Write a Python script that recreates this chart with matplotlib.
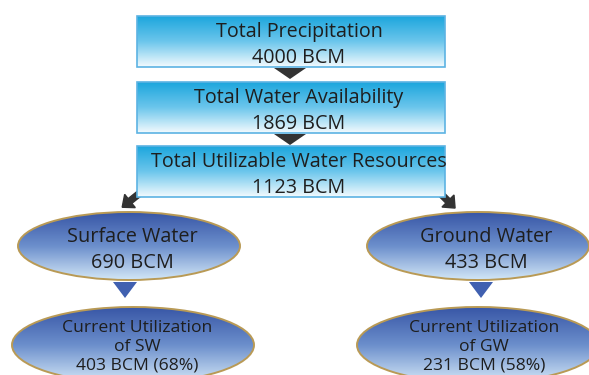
import numpy as np
import matplotlib.pyplot as plt
from matplotlib.patches import Rectangle, Ellipse, Polygon, FancyArrow
from matplotlib.colors import LinearSegmentedColormap

plt.rcParams['font.family'] = ['Open Sans', 'DejaVu Sans']

# top chain of boxes
box_titles = ["Total Precipitation", "Total Water Availability", "Total Utilizable Water Resources"]
box_values = [4000, 1869, 1123]

# the two branches
branch_titles = ["Surface Water", "Ground Water"]
branch_values = [690, 433]
util_titles = ["Current Utilization", "Current Utilization"]
util_sub = ["of SW", "of GW"]
util_values = [403, 231]
util_pct = [68, 58]

W, H = 589, 375
fig = plt.figure(figsize=(W / 100, H / 100), dpi=100)
ax = fig.add_axes([0, 0, 1, 1])
ax.set_xlim(0, W)
ax.set_ylim(H, 0)
ax.axis('off')

box_cmap = LinearSegmentedColormap.from_list("box", ["#1ca6dd", "#6cc6ec", "#f4fbfe"])
ell_cmap = LinearSegmentedColormap.from_list("ell", ["#3856a6", "#6c8fcc", "#d3e7f7"])
grad = np.linspace(0, 1, 256).reshape(-1, 1)
TXT = '#1e1e1e'


def fill_gradient(patch, cmap, x0, x1, y0, y1, z):
    ax.add_patch(patch)
    im = ax.imshow(grad, cmap=cmap, extent=(x0, x1, y1, y0), aspect='auto',
                   origin='upper', zorder=z)
    im.set_clip_path(patch)


# boxes
bx0, bx1 = 137, 445
box_tops = [16, 82, 146]
box_h = 51
for i, (t, v) in enumerate(zip(box_titles, box_values)):
    y0 = box_tops[i]
    r = Rectangle((bx0, y0), bx1 - bx0, box_h, facecolor='none', edgecolor='none', zorder=2)
    fill_gradient(r, box_cmap, bx0, bx1, y0, y0 + box_h, 2)
    ax.add_patch(Rectangle((bx0, y0), bx1 - bx0, box_h, facecolor='none',
                           edgecolor='#5cb3e3', lw=1.2, zorder=3))
    ax.text(299, y0 + 16, t, ha='center', va='center', fontsize=14.2, color=TXT, zorder=6)
    ax.text(299, y0 + 42, f"{v} BCM", ha='center', va='center', fontsize=14.2, color=TXT, zorder=6)

# dark triangles between boxes
for y in [67, 133]:
    ax.add_patch(Polygon([(274, y + 1), (306, y + 1), (290, y + 12)], closed=True,
                         facecolor='#333333', edgecolor='none', zorder=5))

# diagonal arrows to the branches
ax.add_patch(FancyArrow(140, 193, -10, 8, width=6, head_width=17, head_length=10,
                        length_includes_head=False, color='#333333', zorder=1))
ax.add_patch(FancyArrow(440, 193, 8, 8, width=6, head_width=17, head_length=10,
                        length_includes_head=False, color='#333333', zorder=1))

# ellipses
ell1_cx = [129, 478]
ell1_w, ell1_h, ell1_cy = 222, 68, 246
ell2_cx = [133, 478]
ell2_w, ell2_h, ell2_cy = 242, 76, 345
tri_cx = [125, 481]
txt_cx = [[132, 486], [137, 484]]

for i in range(2):
    cx = ell1_cx[i]
    e = Ellipse((cx, ell1_cy), ell1_w, ell1_h, facecolor='none', edgecolor='none', zorder=2)
    fill_gradient(e, ell_cmap, cx - ell1_w / 2, cx + ell1_w / 2,
                  ell1_cy - ell1_h / 2, ell1_cy + ell1_h / 2, 2)
    ax.add_patch(Ellipse((cx, ell1_cy), ell1_w, ell1_h, facecolor='none',
                         edgecolor='#b99a55', lw=1.4, zorder=3))
    ax.text(txt_cx[0][i], 237, branch_titles[i], ha='center', va='center', fontsize=14.3, color=TXT, zorder=6)
    ax.text(txt_cx[0][i], 263, f"{branch_values[i]} BCM", ha='center', va='center', fontsize=14.3, color=TXT, zorder=6)

    tx = tri_cx[i]
    ax.add_patch(Polygon([(tx - 12, 282), (tx + 12, 282), (tx, 298)], closed=True,
                         facecolor='#4060b0', edgecolor='none', zorder=4))

    cx = ell2_cx[i]
    e = Ellipse((cx, ell2_cy), ell2_w, ell2_h, facecolor='none', edgecolor='none', zorder=2)
    fill_gradient(e, ell_cmap, cx - ell2_w / 2, cx + ell2_w / 2,
                  ell2_cy - ell2_h / 2, ell2_cy + ell2_h / 2, 2)
    ax.add_patch(Ellipse((cx, ell2_cy), ell2_w, ell2_h, facecolor='none',
                         edgecolor='#b99a55', lw=1.4, zorder=3))
    ax.text(txt_cx[1][i], 328, util_titles[i], ha='center', va='center', fontsize=12.6, color=TXT, zorder=6)
    ax.text(txt_cx[1][i], 347, util_sub[i], ha='center', va='center', fontsize=12.6, color=TXT, zorder=6)
    ax.text(txt_cx[1][i], 365, f"{util_values[i]} BCM ({util_pct[i]}%)", ha='center', va='center',
            fontsize=12.6, color=TXT, zorder=6)

fig.savefig("out.png", dpi=100)
